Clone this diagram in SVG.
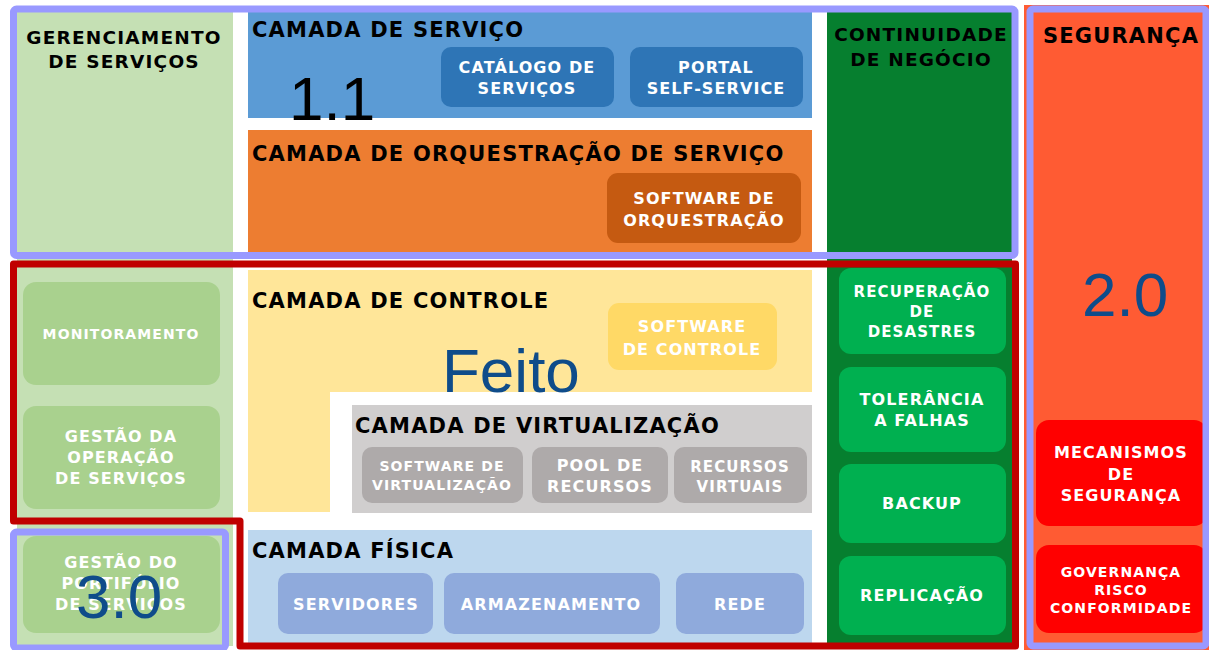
<svg xmlns="http://www.w3.org/2000/svg" width="1209" height="650" viewBox="0 0 1209 650">
<style>
.t{font-family:"DejaVu Sans",sans-serif;font-weight:bold;fill:#000;letter-spacing:1.2px}
.w{font-family:"DejaVu Sans",sans-serif;font-weight:bold;fill:#fff;text-anchor:middle;letter-spacing:1.1px}
.big{font-family:"Liberation Sans",Arial,sans-serif;font-size:62px}
.nv{fill:#0f4c8a}
</style>
<rect width="1209" height="650" fill="#fff"/>
<g id="gerenciamento">
<rect x="17" y="12" width="216" height="634" fill="#c5e0b4"/>
<text class="t" x="124" y="44" font-size="18.5" text-anchor="middle">GERENCIAMENTO</text>
<text class="t" x="124" y="68" font-size="18.5" text-anchor="middle">DE SERVIÇOS</text>
</g>
<g id="monitoramento"><rect x="23" y="282" width="197" height="103" rx="13" fill="#a9d18e"/><text class="w" x="121" y="339" font-size="14">MONITORAMENTO</text></g>
<g id="gestao-operacao"><rect x="23" y="406" width="197" height="103" rx="13" fill="#a9d18e"/><text class="w" x="121" y="442" font-size="16">GESTÃO DA</text><text class="w" x="121" y="463" font-size="16">OPERAÇÃO</text><text class="w" x="121" y="484" font-size="16">DE SERVIÇOS</text></g>
<g id="gestao-portfolio"><rect x="23" y="536" width="197" height="97" rx="13" fill="#a9d18e"/><text class="w" x="121" y="568" font-size="16">GESTÃO DO</text><text class="w" x="121" y="589" font-size="16">PORTIFÓLIO</text><text class="w" x="121" y="610" font-size="16">DE SERVIÇOS</text></g>

<g id="camada-servico">
<rect x="248" y="12" width="564" height="106" fill="#5b9bd5"/>
<text class="t" x="252" y="37" font-size="21">CAMADA DE SERVIÇO</text>
</g>
<g id="catalogo"><rect x="441" y="47" width="173" height="60" rx="10" fill="#2e75b6"/><text class="w" x="527" y="73" font-size="16">CATÁLOGO DE</text><text class="w" x="527" y="94" font-size="16">SERVIÇOS</text></g>
<g id="portal"><rect x="630" y="47" width="173" height="60" rx="10" fill="#2e75b6"/><text class="w" x="716" y="73" font-size="16">PORTAL</text><text class="w" x="716" y="94" font-size="16">SELF-SERVICE</text></g>

<g id="camada-orquestracao">
<rect x="248" y="130" width="564" height="122" fill="#ed7d31"/>
<text class="t" x="252" y="161" font-size="21">CAMADA DE ORQUESTRAÇÃO DE SERVIÇO</text>
</g>
<g id="software-orquestracao"><rect x="607" y="173" width="194" height="70" rx="11" fill="#c55a11"/><text class="w" x="704" y="204" font-size="16">SOFTWARE DE</text><text class="w" x="704" y="226" font-size="16">ORQUESTRAÇÃO</text></g>

<g id="continuidade">
<rect x="827" y="12" width="185" height="634" fill="#067f2f"/>
<text class="t" x="921" y="41" font-size="18.5" text-anchor="middle">CONTINUIDADE</text>
<text class="t" x="921" y="66" font-size="18.5" text-anchor="middle">DE NEGÓCIO</text>
</g>
<g id="recuperacao"><rect x="839" y="268" width="167" height="86" rx="12" fill="#00b050"/><text class="w" x="922" y="297" font-size="15">RECUPERAÇÃO</text><text class="w" x="922" y="317" font-size="15">DE</text><text class="w" x="922" y="337" font-size="15">DESASTRES</text></g>
<g id="tolerancia"><rect x="839" y="367" width="167" height="85" rx="12" fill="#00b050"/><text class="w" x="922" y="405" font-size="16">TOLERÂNCIA</text><text class="w" x="922" y="426" font-size="16">A FALHAS</text></g>
<g id="backup"><rect x="839" y="464" width="167" height="79" rx="12" fill="#00b050"/><text class="w" x="922" y="509" font-size="16">BACKUP</text></g>
<g id="replicacao"><rect x="839" y="556" width="167" height="79" rx="12" fill="#00b050"/><text class="w" x="922" y="601" font-size="16">REPLICAÇÃO</text></g>

<g id="seguranca">
<rect x="1024" y="5" width="185" height="645" fill="#ff5b33"/>
<text class="t" x="1121" y="43" font-size="21" text-anchor="middle">SEGURANÇA</text>
</g>
<g id="mecanismos"><rect x="1036" y="420" width="171" height="106" rx="13" fill="#ff0000"/><text class="w" x="1121" y="458" font-size="16">MECANISMOS</text><text class="w" x="1121" y="480" font-size="16">DE</text><text class="w" x="1121" y="501" font-size="16">SEGURANÇA</text></g>
<g id="governanca"><rect x="1036" y="545" width="171" height="88" rx="13" fill="#ff0000"/><text class="w" x="1121" y="577" font-size="14">GOVERNANÇA</text><text class="w" x="1121" y="595" font-size="14">RISCO</text><text class="w" x="1121" y="613" font-size="14">CONFORMIDADE</text></g>

<g id="camada-controle">
<path d="M248 270 H812 V392 H330 V512 H248 Z" fill="#ffe699"/>
<text class="t" x="252" y="308" font-size="21">CAMADA DE CONTROLE</text>
</g>
<g id="software-controle"><rect x="608" y="303" width="169" height="67" rx="11" fill="#ffd966"/><text class="w" x="692" y="332" font-size="16">SOFTWARE</text><text class="w" x="692" y="355" font-size="16">DE CONTROLE</text></g>

<g id="camada-virtualizacao">
<rect x="352" y="405" width="460" height="108" fill="#d0cece"/>
<text class="t" x="355" y="433" font-size="21">CAMADA DE VIRTUALIZAÇÃO</text>
</g>
<g id="software-virtualizacao"><rect x="362" y="447" width="161" height="56" rx="10" fill="#aeaaaa"/><text class="w" x="442" y="471" font-size="14" letter-spacing="0.6">SOFTWARE DE</text><text class="w" x="442" y="490" font-size="14" letter-spacing="0.6">VIRTUALIZAÇÃO</text></g>
<g id="pool"><rect x="532" y="447" width="136" height="56" rx="10" fill="#aeaaaa"/><text class="w" x="600" y="471" font-size="16">POOL DE</text><text class="w" x="600" y="492" font-size="16">RECURSOS</text></g>
<g id="recursos-virtuais"><rect x="674" y="447" width="133" height="56" rx="10" fill="#aeaaaa"/><text class="w" x="740" y="472" font-size="15">RECURSOS</text><text class="w" x="740" y="492" font-size="15">VIRTUAIS</text></g>

<g id="camada-fisica">
<rect x="248" y="530" width="564" height="113" fill="#bdd7ee"/>
<text class="t" x="252" y="558" font-size="21">CAMADA FÍSICA</text>
</g>
<g id="servidores"><rect x="278" y="573" width="155" height="61" rx="10" fill="#8faadc"/><text class="w" x="356" y="610" font-size="16">SERVIDORES</text></g>
<g id="armazenamento"><rect x="444" y="573" width="216" height="61" rx="10" fill="#8faadc"/><text class="w" x="551" y="610" font-size="16">ARMAZENAMENTO</text></g>
<g id="rede"><rect x="676" y="573" width="128" height="61" rx="10" fill="#8faadc"/><text class="w" x="740" y="610" font-size="16">REDE</text></g>

<g id="connectors" fill="none" stroke-linejoin="round">
<rect x="13.5" y="9" width="1001.5" height="246.5" rx="3" stroke="#9999ff" stroke-width="7"/>
<rect x="1030" y="9" width="176" height="637" rx="3" stroke="#9999ff" stroke-width="7"/>
<path d="M13.5 264 H1015.5 V646 H240 V521 H13.5 Z" stroke="#c00000" stroke-width="7"/>
<rect x="13.5" y="532" width="212" height="116" rx="3" stroke="#9999ff" stroke-width="7"/>
</g>

<g id="labels">
<text class="big" x="289" y="120" fill="#000">1.1</text>
<text class="big nv" x="442" y="392" font-size="63">Feito</text>
<text class="big nv" x="1082" y="316">2.0</text>
<text class="big nv" x="76" y="618">3.0</text>
</g>
</svg>
